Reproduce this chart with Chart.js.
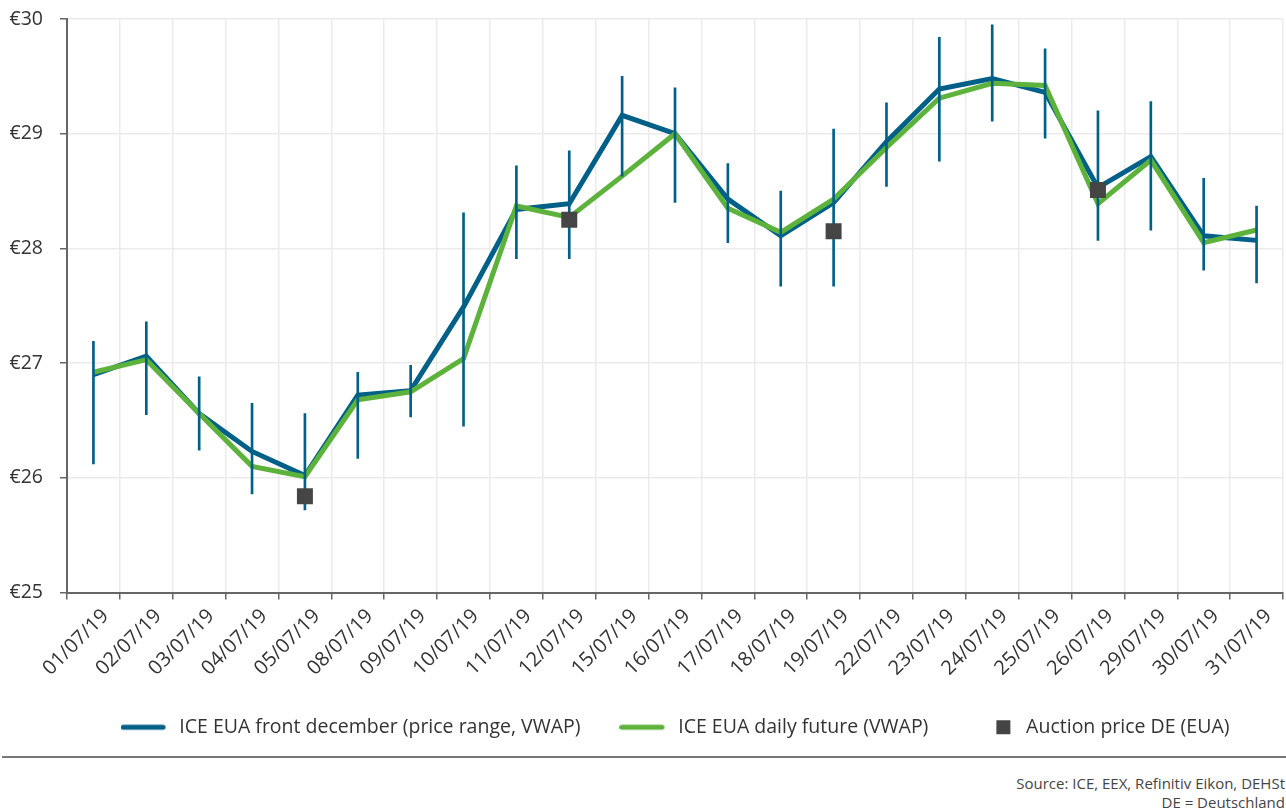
<!DOCTYPE html>
<html>
<head>
<meta charset="utf-8">
<script src="https://cdn.jsdelivr.net/npm/chart.js@4.4.1/dist/chart.umd.min.js"></script>
<style>
    html, body { margin: 0; background: #fff; font-family: "Open Sans", sans-serif; overflow: hidden; }
    #wrap { position: relative; width: 1286px; height: 747px; }
    #rule { position: absolute; left: 2px; width: 1284px; top: 756px; border-top: 2px solid #777; }
    #source { position: absolute; right: 1px; top: 774px; text-align: right; font-size: 15px; line-height: 19px; color: #444; }
</style>
</head>
<body>
<div id="wrap"><canvas id="chart"></canvas></div>
<div id="rule"></div>
<div id="source">Source: ICE, EEX, Refinitiv Eikon, DEHSt<br>DE = Deutschland</div>
<script>
// Datos
var labels = ['01/07/19', '02/07/19', '03/07/19', '04/07/19', '05/07/19', '08/07/19', '09/07/19', '10/07/19',
    '11/07/19', '12/07/19', '15/07/19', '16/07/19', '17/07/19', '18/07/19', '19/07/19', '22/07/19',
    '23/07/19', '24/07/19', '25/07/19', '26/07/19', '29/07/19', '30/07/19', '31/07/19'];

var frontDec = [26.90, 27.06, 26.56, 26.23, 26.02, 26.72, 26.76, 27.49, 28.34, 28.39, 29.16, 29.00,
    28.43, 28.11, 28.40, 28.93, 29.39, 29.48, 29.36, 28.53, 28.80, 28.11, 28.07];
var dailyFut = [26.92, 27.03, 26.56, 26.10, 26.01, 26.68, 26.75, 27.04, 28.37, 28.27, 28.63, 29.00,
    28.35, 28.14, 28.43, 28.88, 29.31, 29.44, 29.42, 28.39, 28.77, 28.05, 28.16];
var rangeLow = [26.12, 26.55, 26.24, 25.86, 25.72, 26.17, 26.53, 26.45, 27.91, 27.91, 28.63, 28.40,
    28.05, 27.67, 27.67, 28.54, 28.76, 29.11, 28.96, 28.07, 28.16, 27.81, 27.70];
var rangeHigh = [27.19, 27.36, 26.88, 26.65, 26.56, 26.92, 26.98, 28.31, 28.72, 28.85, 29.50, 29.40,
    28.74, 28.50, 29.04, 29.27, 29.84, 29.95, 29.74, 29.20, 29.28, 28.61, 28.37];
var auction = [null, null, null, null, 25.84, null, null, null, null, 28.25, null, null,
    null, null, 28.15, null, null, null, null, 28.51, null, null, null];
var yTicks = [25, 26, 27, 28, 29, 30];

var BLUE = '#006087';
var GREEN = '#5cb23a';
var GREY_SQ = '#454545';

// marcadores para la leyenda
function legendMark(color, square) {
    var c = document.createElement('canvas');
    c.width = 49; c.height = 16;
    var g = c.getContext('2d');
    g.fillStyle = color;
    if (square) {
        g.fillRect(29, 1, 14, 14);
    } else {
        g.lineCap = 'round';
        g.strokeStyle = color;
        g.lineWidth = 5;
        g.beginPath(); g.moveTo(2.5, 8); g.lineTo(42.5, 8); g.stroke();
    }
    return c;
}
var marks = [legendMark(BLUE), legendMark(GREEN), legendMark(GREY_SQ, true)];

var ranges = rangeLow.map(function (lo, i) { return [lo, rangeHigh[i]]; });

var ctx = document.getElementById('chart').getContext('2d');
var chart = new Chart(ctx, {
    type: 'line',
    data: {
        labels: labels,
        datasets: [{
            label: 'ICE EUA front december (price range, VWAP)',
            data: frontDec,
            borderColor: BLUE,
            borderWidth: 5,
            pointRadius: 0,
            tension: 0,
            order: 3
        }, {
            label: 'ICE EUA daily future (VWAP)',
            data: dailyFut,
            borderColor: GREEN,
            borderWidth: 5,
            pointRadius: 0,
            tension: 0,
            order: 2
        }, {
            type: 'bar',
            label: 'range',
            data: ranges,
            backgroundColor: BLUE,
            barThickness: 2,
            order: 1
        }, {
            label: 'Auction price DE (EUA)',
            data: auction,
            showLine: false,
            pointStyle: 'rect',
            pointRadius: 11.3,
            pointBackgroundColor: GREY_SQ,
            pointBorderWidth: 0,
            order: 0
        }]
    },
    options: {
        responsive: true,
        maintainAspectRatio: false,
        animation: false,
        layout: { autoPadding: false, padding: { top: 19, right: 3, left: 0, bottom: 0 } },
        plugins: {
            tooltip: { enabled: false },
            legend: {
                position: 'bottom',
                fullSize: false,
                labels: {
                    usePointStyle: true,
                    pointStyleWidth: 49,
                    padding: 39,
                    color: '#333',
                    font: { family: '"Open Sans", sans-serif', size: 19.5 },
                    generateLabels: function (chart) {
                        var ids = [0, 1, 3];
                        return ids.map(function (d, k) {
                            return {
                                text: chart.data.datasets[d].label,
                                pointStyle: marks[k],
                                fillStyle: 'transparent',
                                strokeStyle: 'transparent',
                                lineWidth: 0,
                                datasetIndex: d,
                                fontColor: '#333'
                            };
                        });
                    }
                }
            }
        },
        scales: {
            x: {
                offset: true,
                grid: { offset: true, color: '#ebebeb', tickColor: '#666', tickLength: 7, lineWidth: 1.5 },
                border: { color: '#666', width: 2 },
                ticks: {
                    maxRotation: 45, minRotation: 45, autoSkip: false,
                    color: '#333', padding: 5, labelOffset: 12,
                    font: { family: '"Open Sans", sans-serif', size: 20 }
                },
                afterFit: function (scale) {
                    scale.height = 86;
                    scale.paddingLeft = 0;
                    scale.paddingRight = 0;
                }
            },
            y: {
                min: 25, max: 30,
                afterBuildTicks: function (scale) {
                    scale.ticks = yTicks.map(function (v) { return { value: v }; });
                },
                grid: { color: '#ebebeb', tickColor: '#666', tickLength: 7, lineWidth: 1.5 },
                border: { color: '#666', width: 2 },
                ticks: {
                    color: '#333', padding: 17,
                    font: { family: '"Open Sans", sans-serif', size: 19.5 },
                    callback: function (v) { return '€' + v; }
                },
                afterFit: function (scale) {
                    scale.width = 67;
                    scale.paddingTop = 0;
                    scale.paddingBottom = 0;
                }
            }
        }
    }
});
</script>
</body>
</html>
